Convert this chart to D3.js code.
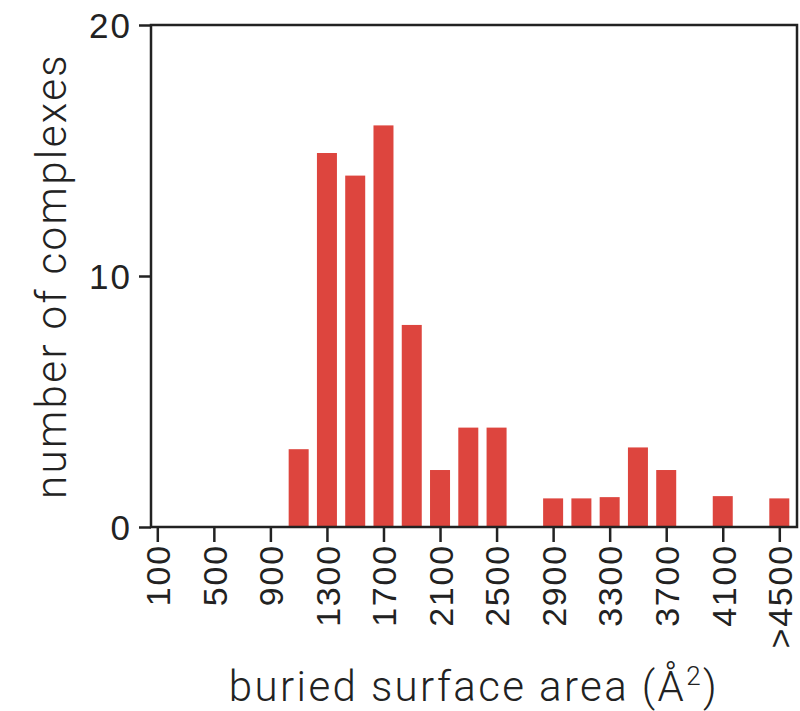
<!DOCTYPE html>
<html>
<head>
<meta charset="utf-8">
<script src="https://cdn.jsdelivr.net/npm/d3@7"></script>
<style>
    body { margin: 0; background: #fff; }
    svg { font-family: Roboto, "Liberation Sans", sans-serif; font-weight: 300; }
    .axis text { fill: #222; }
    .axis line { stroke: #222; stroke-width: 2.5; }
</style>
</head>
<body>
<script>
// Bin centres (buried surface area, A^2) and number of complexes per bin
var bins = [1100, 1300, 1500, 1700, 1900, 2100, 2300, 2500, 2700, 2900,
            3100, 3300, 3500, 3700, 3900, 4100, 4300, 4500];
var counts = [3.1, 14.9, 14.0, 16.0, 8.05, 2.27, 3.96, 3.96, 0, 1.14,
              1.14, 1.19, 3.17, 2.27, 0, 1.23, 0, 1.14];
var xTicks = [100, 500, 900, 1300, 1700, 2100, 2500, 2900, 3300, 3700,
              4100, 4500];
var yTicks = [0, 10, 20];

// Plot frame
var frame = {left: 151, right: 797, top: 25, bottom: 527};

var svg = d3.select("body").append("svg")
    .attr("width", 800)
    .attr("height", 711);

var x = d3.scaleLinear()
    .domain([100, 4500])
    .range([157.3, 779.3]);

var y = d3.scaleLinear()
    .domain([0, 20])
    .range([frame.bottom, frame.top]);

var barWidth = 20;

// Bars
svg.append("g")
    .selectAll("rect")
    .data(bins.map(function(b, i) { return {bin: b, count: counts[i]}; }))
    .enter().append("rect")
    .attr("x", function(d) { return x(d.bin) - barWidth / 2; })
    .attr("y", function(d) { return y(d.count); })
    .attr("width", barWidth)
    .attr("height", function(d) { return y(0) - y(d.count); })
    .attr("fill", "#dd453e");

// X axis, labels rotated
var xAxis = svg.append("g")
    .attr("class", "axis")
    .attr("transform", "translate(0," + frame.bottom + ")")
    .call(d3.axisBottom(x)
        .tickValues(xTicks)
        .tickSize(15)
        .tickSizeOuter(0)
        .tickFormat(function(d) { return d === 4500 ? ">4500" : d; }));
xAxis.select(".domain").remove();
xAxis.selectAll("text")
    .attr("font-size", 34)
    .attr("letter-spacing", 1.8)
    .attr("transform", "rotate(-90)")
    .attr("text-anchor", "end")
    .attr("x", -17)
    .attr("y", 0)
    .attr("dy", "0.36em");

// Y axis
var yAxis = svg.append("g")
    .attr("class", "axis")
    .attr("transform", "translate(" + frame.left + ",0)")
    .call(d3.axisLeft(y)
        .tickValues(yTicks)
        .tickSize(12)
        .tickSizeOuter(0));
yAxis.select(".domain").remove();
yAxis.selectAll("text")
    .attr("font-size", 35)
    .attr("letter-spacing", 2)
    .attr("x", -19)
    .attr("dy", "0.36em");

// Box round the plot
svg.append("rect")
    .attr("x", frame.left)
    .attr("y", frame.top)
    .attr("width", frame.right - frame.left)
    .attr("height", frame.bottom - frame.top)
    .attr("fill", "none")
    .attr("stroke", "#222")
    .attr("stroke-width", 2.5);

// Axis titles
svg.append("text")
    .attr("transform", "translate(66," + (frame.top + frame.bottom) / 2
        + ") rotate(-90)")
    .attr("text-anchor", "middle")
    .attr("font-size", 42)
    .attr("letter-spacing", 2.4)
    .attr("fill", "#222")
    .text("number of complexes");

var xLabel = svg.append("text")
    .attr("x", (frame.left + frame.right) / 2)
    .attr("y", 701)
    .attr("text-anchor", "middle")
    .attr("font-size", 42)
    .attr("letter-spacing", 2.4)
    .attr("fill", "#222");
xLabel.append("tspan").text("buried surface area (Å");
xLabel.append("tspan").attr("font-size", 26).attr("dy", -16).text("2");
xLabel.append("tspan").attr("dy", 16).text(")");
</script>
</body>
</html>
